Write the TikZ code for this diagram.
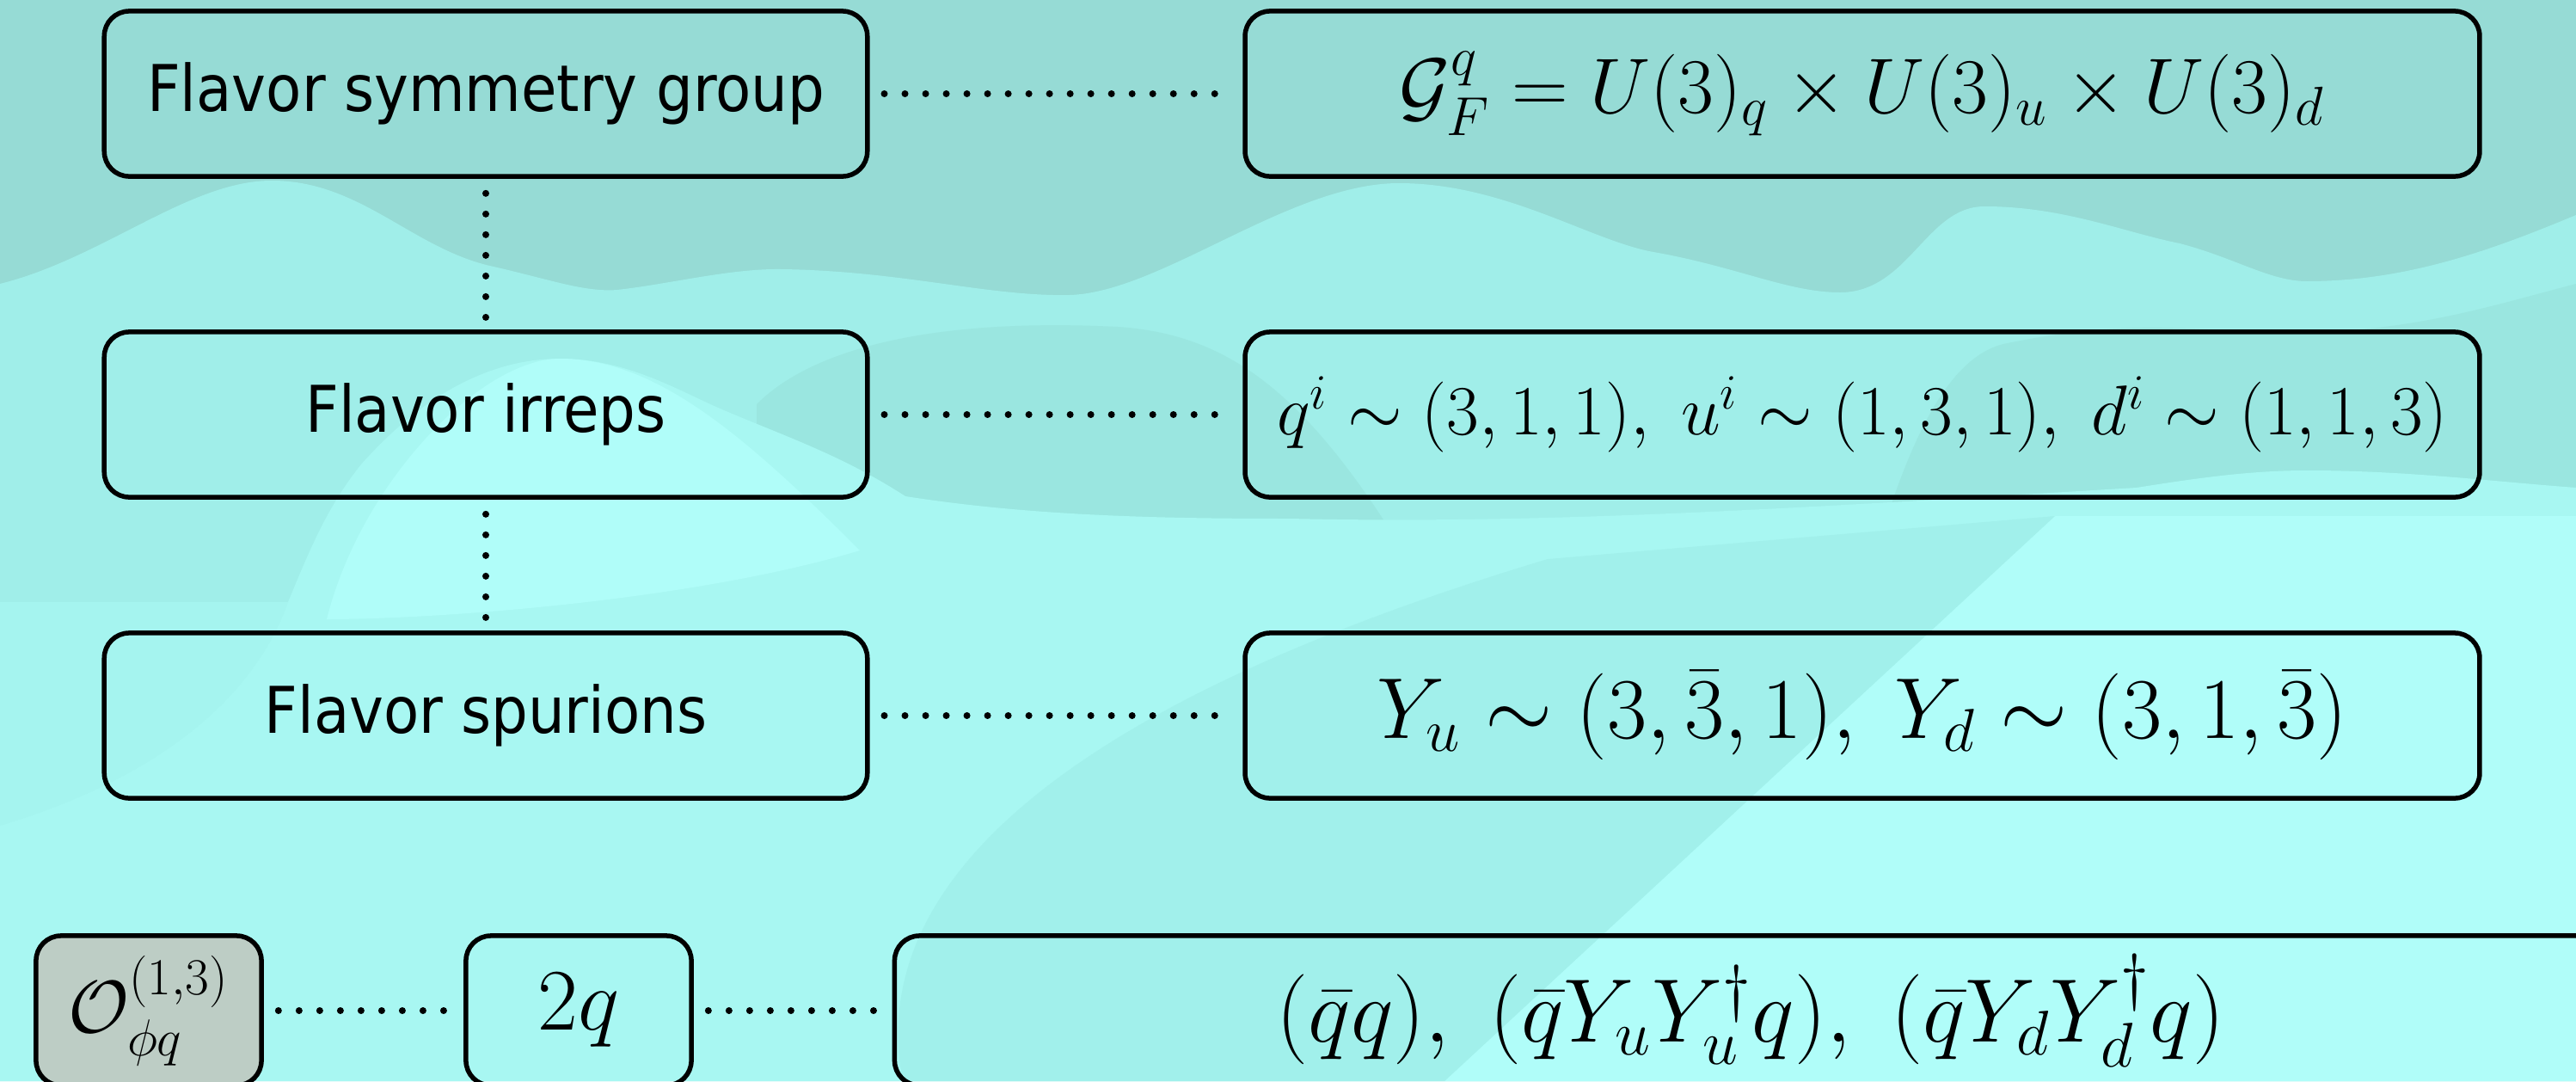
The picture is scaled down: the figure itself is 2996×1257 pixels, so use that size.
\RequirePackage{fix-cm}
\documentclass[tikz,border=0pt]{standalone}
\usepackage{amsmath}
\usepackage{fontspec}
\newfontfamily\labelfont{DejaVu Sans Condensed}
\definecolor{bgA}{HTML}{96DBD5}
\definecolor{bgB}{HTML}{A0EEE9}
\definecolor{bgP}{HTML}{9AE6E0}
\definecolor{bgC}{HTML}{A8F7F2}
\definecolor{bgW}{HTML}{9FEEE9}
\definecolor{bgH}{HTML}{B0FDF9}
\definecolor{opfill}{HTML}{BDCDC5}
\tikzset{
  box/.style={draw=black, line width=0.055cm, rounded corners=0.29cm, inner sep=0pt, align=center},
  leftbox/.style={box, minimum width=8.87cm, minimum height=1.92cm, font=\labelfont\fontsize{21.3}{25}\selectfont},
  rightbox/.style={box, minimum width=14.35cm, minimum height=1.92cm},
  lowbox/.style={box, minimum width=2.62cm, minimum height=1.74cm},
  conn/.style={line width=0.08cm, line cap=round, dash pattern=on 0pt off 0.24cm},
}
\begin{document}
\begin{tikzpicture}[x=0.01cm,y=-0.01cm]
\useasboundingbox (0,0) rectangle (2996,1257);
\clip (0,0) rectangle (2996,1257);
% background waves
\fill[bgA] (0,0) rectangle (2996,1257);
\fill[bgB] (0,330) .. controls (120,300) and (220,210) .. (316,210)
  .. controls (420,210) and (480,290) .. (574,310)
  .. controls (640,325) and (680,340) .. (718,337)
  .. controls (780,330) and (850,312) .. (909,313)
  .. controls (1050,315) and (1150,345) .. (1244,343)
  .. controls (1350,340) and (1500,213) .. (1627,213)
  .. controls (1750,213) and (1850,280) .. (1923,293)
  .. controls (2020,310) and (2080,340) .. (2140,340)
  .. controls (2220,340) and (2240,240) .. (2308,240)
  .. controls (2400,240) and (2470,270) .. (2535,283)
  .. controls (2600,300) and (2640,327) .. (2683,327)
  .. controls (2800,327) and (2900,290) .. (2996,250)
  -- (2996,1257) -- (0,1257) -- cycle;
% darker middle waves
\fill[bgP] (880,760) -- (880,470) .. controls (950,400) and (1100,370) .. (1300,380)
  .. controls (1450,390) and (1550,480) .. (1700,760) -- cycle;
\fill[bgP] (2150,760) .. controls (2200,560) and (2250,420) .. (2330,400)
  .. controls (2450,375) and (2520,380) .. (2600,385)
  .. controls (2780,395) and (2880,360) .. (2996,330) -- (2996,760) -- cycle;
% bright lower layer with hill
\fill[bgC] (0,700) -- (335,700) .. controls (360,640) and (380,590) .. (420,540)
  .. controls (500,450) and (580,417) .. (651,417)
  .. controls (730,417) and (790,455) .. (842,477)
  .. controls (920,510) and (980,530) .. (1053,577)
  .. controls (1200,600) and (1350,603) .. (1500,603)
  .. controls (1800,610) and (2100,590) .. (2485,567)
  .. controls (2560,555) and (2620,547) .. (2683,547)
  .. controls (2800,547) and (2900,560) .. (2996,567)
  -- (2996,1257) -- (0,1257) -- cycle;
\fill[bgC!70!bgB] (0,700) -- (335,700) .. controls (300,800) and (200,900) .. (0,960) -- cycle;
% highlight on the hill and lower right
\fill[bgH] (380,720) .. controls (420,560) and (560,417) .. (651,417)
  .. controls (760,417) and (860,500) .. (1000,640)
  .. controls (800,700) and (500,720) .. (380,720) -- cycle;
\fill[bgH] (2390,600) -- (2996,600) -- (2996,1257) -- (1680,1257) -- cycle;
% darker diagonal wedge at the bottom
\fill[bgW, opacity=0.7] (2390,600) -- (1680,1257) -- (1050,1257)
  .. controls (1000,1000) and (1300,800) .. (1800,650) -- cycle;
% nodes
\node[leftbox] (b1) at (565,109) {Flavor symmetry group};
\node[leftbox] (b2) at (565,482) {Flavor irreps};
\node[leftbox] (b3) at (565,832) {Flavor spurions};
\node[rightbox, font=\fontsize{25.9}{31}\selectfont] (r1) at (2166,109)
  {$\mathcal{G}_F^q = U(3)_q \times U(3)_u \times U(3)_d$};
\node[rightbox, font=\fontsize{23.3}{28}\selectfont] (r2) at (2166,482)
  {$q^i \sim (3,1,1),\; u^i \sim (1,3,1),\; d^i \sim (1,1,3)$};
\node[rightbox, font=\fontsize{28.6}{33}\selectfont] (r3) at (2166,832)
  {$Y_u \sim (3,\bar{3},1),\; Y_d \sim (3,1,\bar{3})$};
\node[lowbox, fill=opfill, font=\fontsize{24.5}{29}\selectfont] (o) at (173,1175)
  {$\mathcal{O}_{\phi q}^{(1,3)}$};
\node[lowbox, font=\fontsize{29}{34}\selectfont] (tq) at (673,1175) {$2q$};
\node[box, minimum width=19.9cm, minimum height=1.74cm, font=\fontsize{29.8}{35}\selectfont] (big) at (2036,1175)
  {$(\bar{q}q),\; (\bar{q}Y_uY_u^\dagger q),\; (\bar{q}Y_dY_d^\dagger q)$};
% connectors
\draw[conn, shorten <=0.17cm, shorten >=0.12cm] (b1.east) -- (r1.west);
\draw[conn, shorten <=0.17cm, shorten >=0.12cm] (b2.east) -- (r2.west);
\draw[conn, shorten <=0.17cm, shorten >=0.12cm] (b3.east) -- (r3.west);
\draw[conn, shorten <=0.17cm, shorten >=0.12cm] (b1.south) -- (b2.north);
\draw[conn, shorten <=0.17cm, shorten >=0.12cm] (b2.south) -- (b3.north);
\draw[conn, shorten <=0.17cm, shorten >=0.12cm] (o.east) -- (tq.west);
\draw[conn, shorten <=0.17cm, shorten >=0.12cm] (tq.east) -- (big.west);
\end{tikzpicture}
\end{document}
